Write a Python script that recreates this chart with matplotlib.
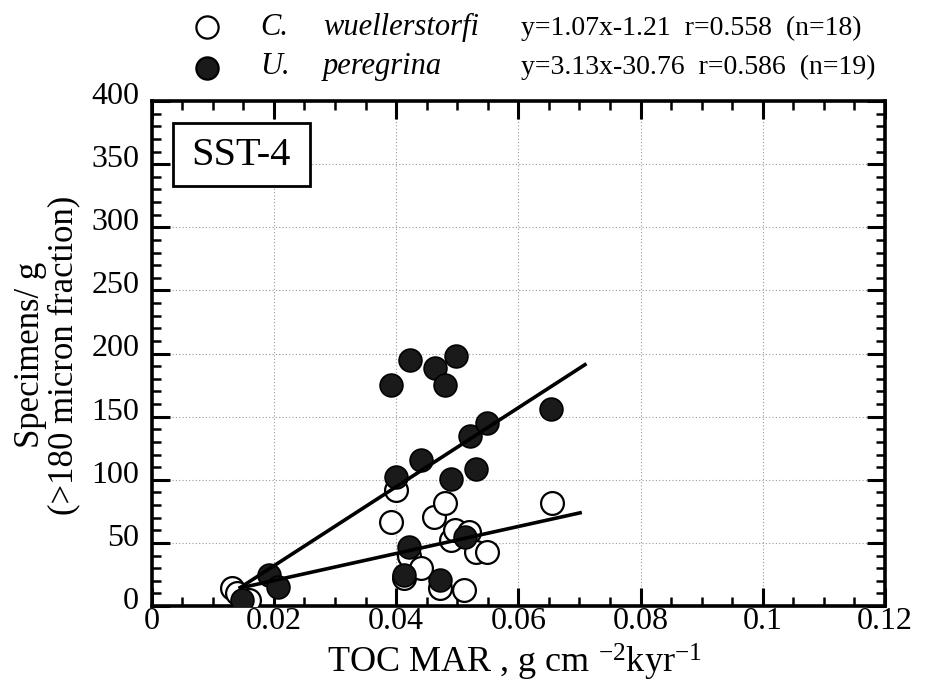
import matplotlib
matplotlib.use("Agg")
import matplotlib.pyplot as plt
import matplotlib.transforms as mtransforms
from matplotlib.lines import Line2D
from matplotlib.patches import Rectangle

plt.rcParams["font.family"] = ["Liberation Serif", "DejaVu Serif"]
plt.rcParams["mathtext.fontset"] = "custom"
plt.rcParams["mathtext.rm"] = "Liberation Serif"
plt.rcParams["mathtext.it"] = "Liberation Serif:italic"

# C. wuellerstorfi (open circles)
cw_x = [0.0131, 0.0140, 0.0160, 0.0391, 0.0399, 0.0413, 0.0421, 0.0441, 0.0462,
        0.0471, 0.0480, 0.0490, 0.0496, 0.0511, 0.0520, 0.0530, 0.0549, 0.0655]
cw_y = [14.0, 10.0, 5.0, 66.6, 91.7, 21.9, 40.0, 29.8, 70.6,
        14.0, 81.2, 52.2, 60.1, 12.6, 58.7, 42.9, 42.9, 81.2]

# U. peregrina (filled circles)
up_x = [0.0148, 0.0192, 0.0207, 0.0391, 0.0399, 0.0413, 0.0421, 0.0422, 0.0440, 0.0463,
        0.0472, 0.0480, 0.0489, 0.0498, 0.0513, 0.0521, 0.0530, 0.0549, 0.0653]
up_y = [4.7, 24.5, 15.3, 174.7, 102.2, 24.5, 46.9, 194.5, 115.4, 188.7,
        20.6, 174.7, 100.4, 198.4, 54.8, 134.4, 108.8, 144.9, 155.7]

# regression fits, x in 1e-3 g cm-2 kyr-1
cw_fit = (1.07, -1.21)
up_fit = (3.13, -30.76)
cw_range = [0.0145, 0.0701]
up_range = [0.0145, 0.0709]

cw_label = "y=1.07x-1.21  r=0.558  (n=18)"
up_label = "y=3.13x-30.76  r=0.586  (n=19)"

x_ticks = [0, 0.02, 0.04, 0.06, 0.08, 0.1, 0.12]
x_ticklabels = ["0", "0.02", "0.04", "0.06", "0.08", "0.1", "0.12"]
y_ticks = [0, 50, 100, 150, 200, 250, 300, 350, 400]

W, H = 926, 685
fig = plt.figure(figsize=(W / 100, H / 100), dpi=100)
ax = fig.add_axes([151.7 / W, 1 - 606 / H, (885 - 151.7) / W, (606 - 101) / H])


def px(x, y):
    return x / W, 1 - y / H


ax.scatter(cw_x, cw_y, s=270, facecolor="white", edgecolor="black", linewidth=1.6, zorder=3)
ax.scatter(up_x, up_y, s=270, facecolor="#1a1a1a", edgecolor="black", linewidth=1.2, zorder=4)

for fit, rng in [(cw_fit, cw_range), (up_fit, up_range)]:
    ys = [fit[0] * v * 1000 + fit[1] for v in rng]
    ax.plot(rng, ys, color="black", lw=2.6, zorder=5)

ax.set_xlim(0, 0.12)
ax.set_ylim(0, 400)
ax.set_xticks(x_ticks)
ax.set_xticklabels(x_ticklabels)
ax.set_yticks(y_ticks)
ax.set_xticks([i * 0.005 for i in range(25)], minor=True)
ax.set_yticks(list(range(0, 401, 10)), minor=True)
ax.grid(True, which="major", linestyle=(0, (1, 2)), color="#999999", lw=0.8)
ax.set_axisbelow(True)
ax.tick_params(which="both", direction="in", top=True, right=True, labelsize=23)
ax.tick_params(which="major", length=13, width=2.2)
ax.tick_params(which="minor", length=6.5, width=1.8)
ax.tick_params(axis="x", pad=1)
ax.tick_params(axis="y", pad=9)
for sp in ax.spines.values():
    sp.set_linewidth(2.6)

# y tick labels sit a little above their ticks in the original
shift = mtransforms.ScaledTranslation(0, 8 / 100, fig.dpi_scale_trans)
for lab in ax.get_yticklabels():
    lab.set_transform(lab.get_transform() + shift)

# station box
ax.add_patch(Rectangle((0.0286, 0.832), 0.187, 0.125, transform=ax.transAxes,
                       facecolor="white", edgecolor="black", lw=2, zorder=6))
ax.text(0.122, 0.893, "SST-4", transform=ax.transAxes, fontsize=29,
        ha="center", va="center", zorder=7)

# axis labels
fig.text(*px(327, 673), "TOC MAR , g cm $^{-2}$kyr$^{-1}$", fontsize=26, ha="left", va="baseline")
fig.text(*px(47, 355), "Specimens/ g\n(>180 micron fraction)", fontsize=25, rotation=90,
         ha="center", va="center", multialignment="center", linespacing=1.0)

# legend above the axes
rows = [(27, 35, "white", "C.", "wuellerstorfi", cw_label),
        (68, 74, "#1a1a1a", "U.", "peregrina", up_label)]
for cy, base, fc, genus, species, eq in rows:
    fig.add_artist(Line2D([207 / W], [1 - cy / H], transform=fig.transFigure, marker="o",
                          markersize=16, markerfacecolor=fc, markeredgecolor="black",
                          markeredgewidth=1.6, linestyle="none"))
    fig.text(*px(260, base), genus, fontsize=22, style="italic", va="baseline")
    fig.text(*px(323, base), species, fontsize=22, style="italic", va="baseline")
    fig.text(*px(521, base), eq, fontsize=20, va="baseline")

fig.savefig("out.png", dpi=100)
